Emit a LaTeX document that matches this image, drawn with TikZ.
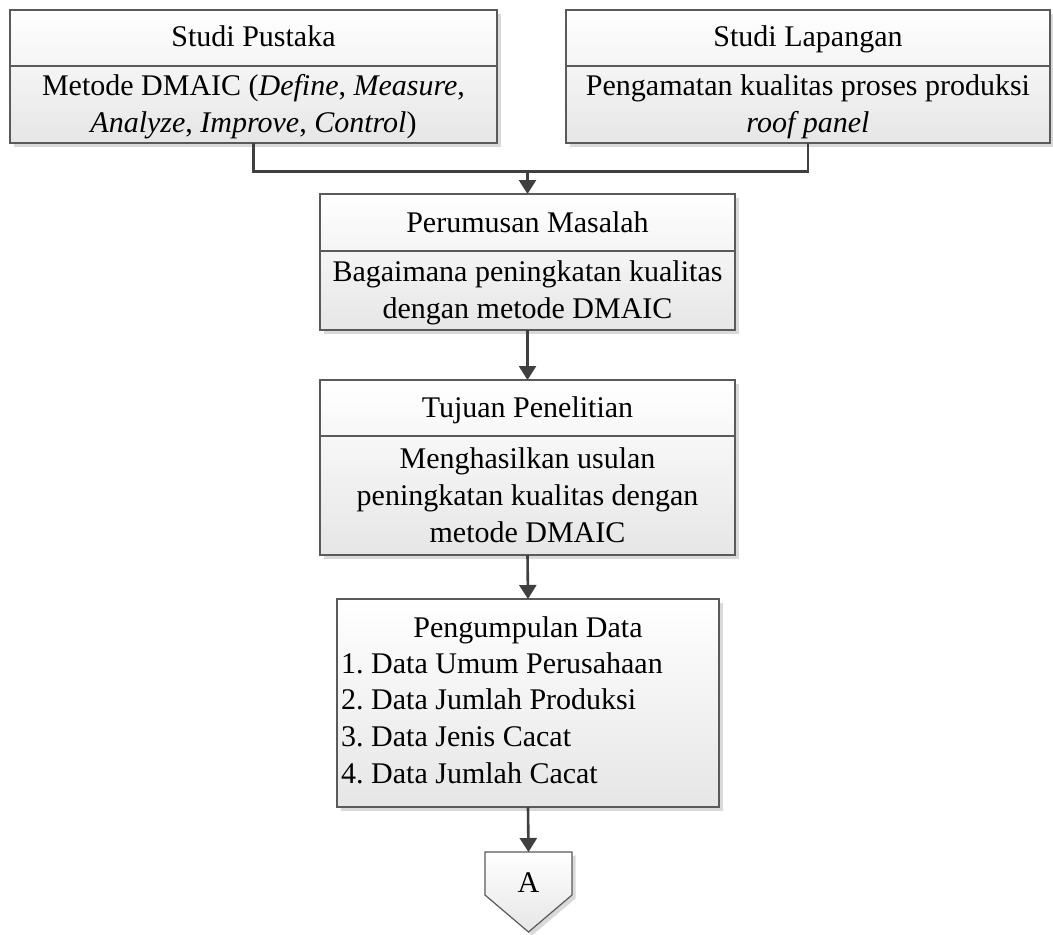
\documentclass[tikz,border=0pt]{standalone}
\usepackage{fontspec}
\setmainfont{Liberation Serif}
\frenchspacing
\usetikzlibrary{arrows.meta,calc,shadows}
\definecolor{boxline}{HTML}{5A5A5A}
\definecolor{boxbot}{HTML}{E6E6E6}
\definecolor{connc}{HTML}{404040}
\newcommand{\topstrut}{\vrule width 0pt height 26.25pt depth 0pt\relax}
\tikzset{
  box/.style={draw=boxline, line width=1.2pt, top color=white, bottom color=boxbot,
    drop shadow={shadow xshift=3.5pt, shadow yshift=-3.5pt, fill=black!25, opacity=0.6},
    inner sep=0pt, outer sep=0pt},
  divider/.style={draw=boxline, line width=1.2pt},
  txt/.style={font=\fontsize{30}{37}\selectfont, align=center, inner sep=0pt,
    anchor=north},
  conn/.style={draw=connc, line width=2.6pt},
  arr/.style={conn, -{Triangle[width=17pt,length=14pt]}}
}
\begin{document}
\begin{tikzpicture}[x=1pt,y=-1pt]
\useasboundingbox (0,0) rectangle (1053,935);
% boxes
\node[box, minimum width=487pt, minimum height=133pt] (b1) at (253.5,76.5) {};
\node[box, minimum width=484pt, minimum height=133pt] (b2) at (808,76.5) {};
\node[box, minimum width=415pt, minimum height=136pt] (b3) at (527.5,262) {};
\node[box, minimum width=415pt, minimum height=175pt] (b4) at (527.5,467.5) {};
\node[box, minimum width=382pt, minimum height=208pt] (b5) at (528,703) {};
% dividers
\draw[divider] ($(b1.west)+(0,-10.5)$) -- ($(b1.east)+(0,-10.5)$);
\draw[divider] ($(b2.west)+(0,-10.5)$) -- ($(b2.east)+(0,-10.5)$);
\draw[divider] ($(b3.west)+(0,-11)$) -- ($(b3.east)+(0,-11)$);
\draw[divider] ($(b4.west)+(0,-31.5)$) -- ($(b4.east)+(0,-31.5)$);
% texts (north = first baseline - 26.25)
\node[txt] (t1h) at (253.5,19.75) {\topstrut Studi Pustaka};
\node[txt] (t1b) at (253.5,68.75) {\topstrut Metode DMAIC (\textit{Define}, \textit{Measure},\\ \textit{Analyze}, \textit{Improve}, \textit{Control})};
\node[txt] (t2h) at (808,19.75) {\topstrut Studi Lapangan};
\node[txt] (t2b) at (808,68.75) {\topstrut Pengamatan kualitas proses produksi\\ \textit{roof panel}};
\node[txt] (t3h) at (527.5,205.75) {\topstrut Perumusan Masalah};
\node[txt] (t3b) at (527.5,254.75) {\topstrut Bagaimana peningkatan kualitas\\ dengan metode DMAIC};
\node[txt] (t4h) at (527.5,390.75) {\topstrut Tujuan Penelitian};
\node[txt] (t4b) at (527.5,441.75) {\topstrut Menghasilkan usulan\\ peningkatan kualitas dengan\\ metode DMAIC};
\node[txt] (t5h) at (528,610.75) {\topstrut Pengumpulan Data};
\node[txt, align=left, anchor=north west, font=\fontsize{30}{36.7}\selectfont] (t5b) at (341,646.75) {\topstrut 1. Data Umum Perusahaan\\ 2. Data Jumlah Produksi\\ 3. Data Jenis Cacat\\ 4. Data Jumlah Cacat};
% off-page connector
\draw[draw=boxline, line width=1.2pt, top color=white, bottom color=boxbot,
  drop shadow={shadow xshift=3.5pt, shadow yshift=-3.5pt, fill=black!25, opacity=0.6}]
  (485,852) -- (572,852) -- (572,895) -- (528.5,932) -- (485,895) -- cycle;
\coordinate (Atop) at (528.5,852);
\node[txt] (A) at (528.5,865.75) {\topstrut A};
% connectors
\coordinate (j) at (527.5,171.5);
\draw[conn] (b1.south) |- (j);
\draw[conn] (b2.south) |- (j);
\draw[arr] (j) -- (b3.north);
\draw[arr] (b3.south) -- (b4.north);
\draw[arr] (b4.south) -- (b5.north);
\draw[arr] (b5.south) -- (Atop);
\end{tikzpicture}
\end{document}
